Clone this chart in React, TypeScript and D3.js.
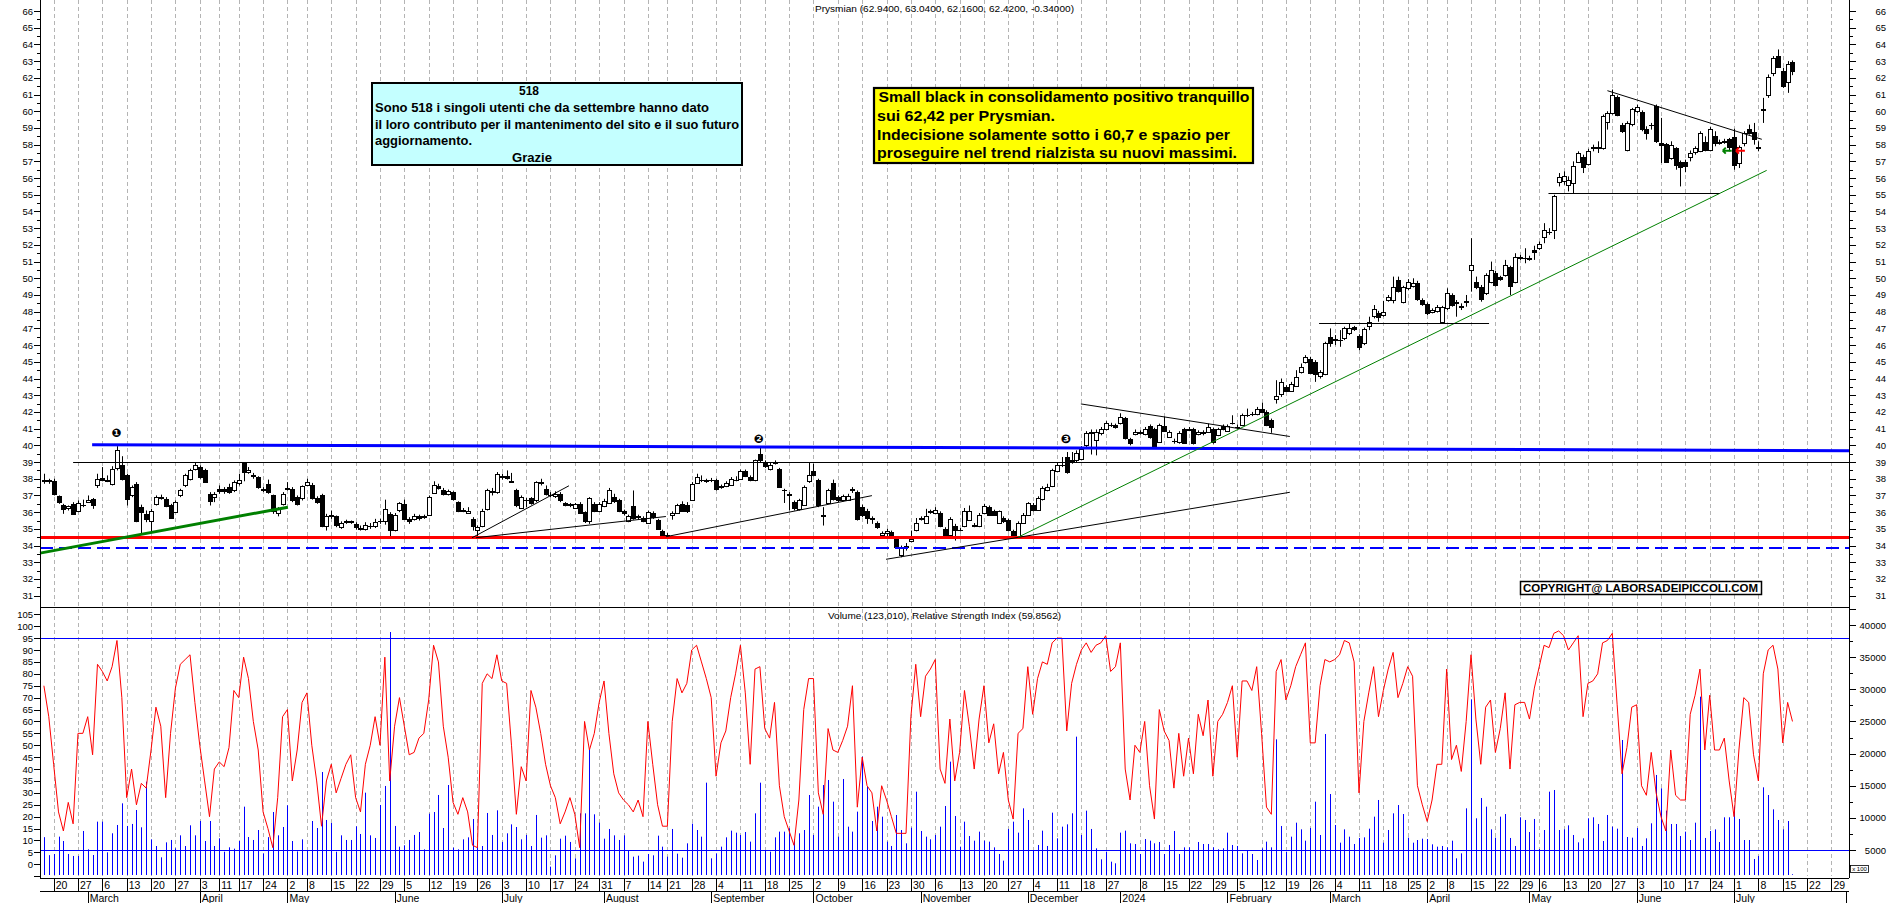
import React from "react";
import * as d3 from "d3";

const W = 1890;
const H = 903;
const AX_L = 40;
const AX_R = 1849;
const FONT = "'Liberation Sans', Arial, Helvetica, sans-serif";

// Calendar (Borsa Italiana trading days)
const FIRST_DAY = "2023-02-16";
const LAST_AXIS_DAY = "2024-08-02";
const HOLIDAYS = ["2023-04-07", "2023-04-10", "2023-05-01", "2023-08-15", "2023-12-25", "2023-12-26", "2024-01-01", "2024-03-29", "2024-04-01", "2024-05-01"];
const WEEK_SKIP = ["2024-01-02"];
const MONTH_NAMES = ["January", "February", "March", "April", "May", "June", "July", "August", "September", "October", "November", "December"];

const OPEN = [
37.85,37.9,37.87,36.95,36.45,36.25,36.5,36.1,36.4,36.6,
36.8,37.6,38.05,37.9,37.7,38.65,38.8,38.2,37.0,37.7,
36.3,35.9,35.5,36.5,36.85,36.8,36.4,36.0,37.0,37.6,
38.0,38.6,38.7,38.55,37.1,36.9,37.4,37.4,37.5,37.3,
37.75,38.95,38.4,38.25,38.1,37.4,37.7,37.0,35.95,36.5,
37.4,37.4,36.9,36.85,37.65,37.6,36.85,37.0,35.2,35.75,
35.75,35.1,35.4,35.45,35.3,35.05,35.0,35.2,35.15,35.5,
35.45,35.9,34.95,36.15,36.5,35.6,35.6,35.8,35.7,35.85,
37.15,37.55,37.35,37.1,37.2,36.6,36.15,35.95,35.6,34.95,
35.2,36.2,37.2,37.2,38.15,38.15,37.85,37.3,36.25,36.75,
36.85,36.7,37.8,37.4,37.05,36.95,37.1,36.55,36.5,36.25,
36.5,36.0,35.45,36.5,36.1,36.35,36.55,36.9,36.7,36.05,
35.5,36.35,35.75,35.65,35.35,35.95,35.55,34.85,34.65,35.85,
35.95,36.5,36.45,36.75,37.75,37.95,37.9,37.9,37.95,37.55,
37.55,37.65,37.95,38.0,38.45,38.1,37.9,39.5,38.95,38.6,
38.95,38.6,37.35,37.1,36.6,36.2,36.45,37.85,38.45,37.9,
35.85,36.55,37.75,36.9,36.75,36.75,37.3,37.2,36.3,36.1,
35.65,35.35,34.65,34.75,34.8,34.4,33.45,33.9,34.25,34.95,
35.6,35.35,36.0,35.95,35.95,35.0,34.65,35.15,34.95,35.15,
35.55,35.25,35.15,35.95,36.3,36.05,35.35,35.65,35.55,34.85,
34.55,35.35,35.85,36.45,36.15,36.8,37.35,37.55,38.45,38.8,
39.3,39.05,39.1,39.2,40.0,40.75,40.3,40.72,40.96,41.2,
41.22,41.32,41.62,40.36,40.68,40.8,40.68,41.18,40.96,40.22,
41.18,40.52,40.28,40.22,40.96,40.94,40.96,40.68,40.8,40.82,
40.96,40.62,41.16,40.88,41.34,41.12,41.22,41.82,41.86,41.88,
42.16,42.02,41.52,42.76,43.08,43.48,43.28,43.55,44.4,45.0,
45.15,45.0,44.15,44.25,46.47,46.36,46.3,46.4,46.7,47.06,
46.55,46.1,47.15,47.75,47.94,47.8,48.7,48.7,49.9,48.6,
49.4,49.54,49.74,48.7,48.46,48.0,48.06,47.4,48.2,49.0,
48.58,48.32,48.6,50.5,49.8,49.5,49.1,49.8,50.34,50.06,
50.2,50.65,49.8,51.3,51.2,51.2,51.7,51.8,52.5,52.75,
52.9,55.77,55.8,55.58,55.68,56.98,57.28,56.84,57.88,57.88,
57.8,59.38,59.88,60.83,59.18,57.68,59.22,60.03,59.97,58.92,
59.2,60.3,58.08,58.04,57.18,57.78,56.98,56.98,57.24,57.58,
57.64,58.18,57.68,58.52,58.18,58.2,58.32,58.44,56.88,58.12,
58.92,58.78,57.88,60.12,60.97,62.27,63.3,62.43,61.77,62.94];

const HIGH = [
38.3,38.0,38.0,37.0,36.5,36.4,36.6,36.7,36.75,37.0,
36.85,38.3,38.7,38.2,38.75,39.95,39.35,38.3,37.6,37.8,
36.45,36.1,36.2,37.0,37.05,36.9,36.5,36.7,37.4,38.3,
38.6,38.95,38.8,38.6,37.2,37.2,37.6,37.5,37.7,37.9,
38.3,39.0,38.7,38.35,38.15,37.5,37.95,37.05,36.3,37.2,
37.8,37.5,37.0,37.6,38.0,37.75,36.95,37.1,35.9,36.1,
35.8,35.45,35.55,35.5,35.4,35.2,35.4,35.35,35.6,35.6,
36.75,36.0,35.95,36.6,36.75,35.7,35.9,35.85,35.85,37.0,
37.85,37.7,37.45,37.35,37.25,36.65,36.25,36.3,35.7,35.2,
36.2,37.4,37.45,38.4,38.3,38.5,38.35,37.4,37.0,36.85,
36.9,37.85,38.0,37.6,37.2,37.25,37.2,36.6,36.55,36.55,
36.6,36.05,36.9,36.6,36.6,36.8,37.45,37.1,36.8,36.15,
35.85,37.3,35.85,35.75,36.1,36.05,35.6,34.95,34.75,36.05,
36.5,36.65,36.6,37.8,38.3,38.2,38.0,38.05,38.0,37.65,
37.85,38.1,38.15,38.55,38.55,38.2,39.15,39.85,39.1,38.95,
39.1,38.65,37.4,37.2,36.7,36.8,37.6,38.95,38.9,38.0,
36.3,37.4,37.95,37.0,37.05,37.1,37.5,37.3,36.45,36.2,
35.75,35.45,34.85,35.0,34.9,34.5,34.0,34.15,34.9,35.65,
35.75,36.2,36.15,36.3,36.05,35.1,35.7,35.3,35.05,36.25,
36.4,35.35,35.95,36.5,36.4,36.15,36.1,35.75,35.6,34.95,
35.45,35.95,36.6,36.55,36.95,37.55,37.7,38.6,39.0,39.3,
39.6,39.6,39.7,39.95,40.85,40.95,40.95,41.1,41.45,41.35,
41.3,41.92,41.7,40.45,40.95,40.9,41.1,41.25,41.05,41.3,
41.72,40.9,40.4,40.85,41.05,41.1,41.05,40.9,40.9,41.3,
41.05,41.05,41.25,41.25,41.8,41.25,41.9,42.2,42.0,42.3,
42.55,42.1,41.6,43.9,44.0,43.6,43.8,44.5,44.9,45.4,
45.3,45.1,44.5,46.2,47.0,46.6,46.9,47.1,47.3,47.15,
46.65,47.05,47.7,48.4,48.05,48.65,49.0,50.1,50.1,49.55,
49.95,50.0,49.85,48.8,48.55,48.2,48.4,48.35,49.4,49.1,
48.7,48.5,49.0,52.4,50.1,49.6,50.3,51.0,50.45,50.15,
51.1,50.75,51.5,51.4,51.8,51.35,51.95,52.2,53.3,53.0,
55.0,56.3,56.4,56.1,57.0,57.6,57.4,57.75,58.0,58.2,
59.8,60.0,61.3,60.95,59.3,59.4,60.2,60.4,60.05,59.1,
59.3,60.4,59.6,58.1,58.2,57.85,57.05,57.1,57.65,57.9,
58.8,58.5,59.05,58.8,58.3,58.35,58.4,58.95,57.95,58.8,
59.2,59.3,58.2,60.8,62.2,63.3,63.7,62.6,63.0,63.04];

const LOW = [
37.7,37.7,37.0,36.5,35.9,36.1,35.85,36.0,36.3,36.55,
36.2,37.45,37.85,37.8,37.6,38.5,37.9,36.4,36.9,35.4,
34.75,35.4,34.85,36.4,36.75,36.3,35.6,35.95,36.9,37.5,
37.9,38.5,38.0,37.75,36.4,36.6,37.1,37.1,37.1,37.2,
37.6,37.85,38.3,38.0,37.4,37.2,37.1,35.9,35.75,36.4,
37.3,36.6,36.4,36.7,37.6,36.75,36.5,35.1,34.9,35.6,
35.1,35.0,35.3,35.3,34.95,34.9,34.9,35.0,35.05,35.3,
35.25,34.55,34.85,36.0,35.55,35.3,35.5,35.5,35.6,35.8,
37.1,37.35,37.0,37.0,36.7,36.0,36.0,35.9,34.9,34.45,
35.1,36.1,37.0,37.1,37.95,37.95,37.75,36.3,36.2,36.3,
36.45,36.6,37.6,37.0,36.9,36.85,36.6,36.35,36.3,36.2,
35.9,35.35,35.3,36.0,36.0,36.3,36.5,36.55,36.0,35.8,
35.4,35.55,35.55,35.4,35.3,35.6,34.95,34.45,34.5,35.55,
35.9,36.05,35.95,36.7,37.7,37.8,37.75,37.8,37.3,37.4,
37.5,37.6,37.85,37.95,38.1,37.85,37.85,39.0,38.65,38.5,
38.85,37.45,36.55,36.1,36.1,36.1,36.4,37.75,38.15,36.3,
35.2,36.5,36.7,36.6,36.65,36.7,37.15,35.5,35.7,35.3,
35.3,35.0,34.45,34.55,34.45,33.8,33.3,33.7,34.2,34.85,
35.5,35.3,35.9,35.9,35.1,34.55,34.55,34.3,34.85,35.1,
35.5,35.1,35.1,35.9,35.8,35.8,35.3,35.35,34.85,34.45,
34.5,35.3,35.8,36.05,36.1,36.7,37.25,37.5,38.4,38.7,
38.3,38.9,39.0,39.1,39.9,39.45,39.4,40.6,40.9,41.1,
41.0,41.25,40.35,40.0,40.6,40.65,40.6,40.4,39.85,40.15,
40.8,40.45,40.1,40.1,40.1,40.85,40.05,40.6,40.6,40.75,
40.1,40.55,40.9,40.8,41.25,41.0,41.15,41.7,41.75,41.8,
41.95,41.15,40.75,42.5,42.9,43.2,43.2,43.5,44.3,44.9,
44.3,43.8,44.0,44.2,45.9,46.0,45.9,46.3,46.6,46.85,
45.7,46.0,46.9,47.6,47.4,47.7,48.6,48.5,49.15,48.5,
49.3,49.45,48.65,48.35,47.8,47.9,47.95,47.3,48.1,48.3,
47.7,48.1,48.3,49.2,49.35,48.6,49.0,49.7,49.5,49.85,
50.1,49.0,49.7,51.1,50.9,51.05,51.1,51.7,52.1,52.6,
52.35,55.5,55.6,55.2,55.1,56.9,56.3,56.75,57.6,57.5,
57.7,58.9,59.8,59.7,58.7,57.6,59.1,59.9,58.8,58.3,
58.9,58.1,56.9,56.9,57.1,56.5,55.5,56.35,57.0,57.4,
57.55,57.6,57.6,57.9,58.0,58.05,57.6,56.5,56.6,57.9,
58.6,58.0,57.6,59.3,60.8,62.1,62.6,61.4,61.1,62.16];

const CLOSE = [
37.95,37.85,37.1,36.6,36.2,36.35,35.9,36.55,36.45,36.75,
36.45,38.0,37.95,37.85,38.6,39.75,38.0,36.8,37.5,35.5,
36.0,35.6,36.1,36.9,36.9,36.35,35.65,36.6,37.3,38.2,
38.5,38.8,38.1,37.8,36.65,37.1,37.25,37.25,37.2,37.8,
37.95,38.4,38.55,38.15,37.5,37.3,37.2,36.1,36.2,37.1,
37.45,36.75,36.5,37.55,37.8,36.85,36.6,35.2,35.75,35.85,
35.25,35.35,35.45,35.4,35.1,35.0,35.25,35.15,35.4,35.45,
36.2,34.95,35.85,36.55,35.6,35.5,35.8,35.65,35.75,36.9,
37.6,37.45,37.1,37.25,36.8,36.1,36.1,36.1,35.2,35.1,
36.1,37.3,37.25,38.3,38.1,38.05,37.8,36.4,36.9,36.7,
36.55,37.8,37.75,37.1,37.0,37.1,36.7,36.4,36.4,36.5,
35.95,35.5,36.85,36.1,36.5,36.65,37.3,36.65,36.05,35.95,
35.75,35.65,35.7,35.5,36.0,35.7,35.0,34.65,34.65,35.95,
36.4,36.1,36.05,37.7,38.1,37.9,37.85,37.95,37.4,37.5,
37.75,38.0,37.95,38.45,38.15,37.9,39.1,39.15,38.75,38.8,
39.0,37.5,37.3,37.05,36.25,36.7,37.5,38.25,38.25,36.4,
35.8,37.3,36.8,36.75,36.95,36.95,37.4,35.6,35.85,35.65,
35.6,35.1,34.75,34.85,34.65,33.9,33.85,33.95,34.4,35.35,
35.65,35.75,36.05,36.15,35.15,34.65,35.6,34.95,34.95,36.05,
36.05,35.2,35.85,36.35,35.85,35.85,36.05,35.45,34.95,34.55,
35.35,35.85,36.55,36.15,36.85,37.45,37.5,38.5,38.8,38.85,
38.4,39.1,39.55,39.8,40.75,40.8,40.8,40.96,41.32,41.22,
41.08,41.68,40.42,40.16,40.82,40.76,40.98,40.48,39.92,41.22,
40.88,40.82,40.26,40.76,40.16,40.98,40.12,40.82,40.74,41.12,
40.22,40.96,40.96,41.16,41.36,41.1,41.82,41.8,41.88,42.16,
42.02,41.22,41.08,42.96,43.82,43.28,43.68,44.1,44.7,45.27,
44.35,44.3,44.4,46.1,46.1,46.3,46.28,47.0,47.0,46.94,
45.87,46.94,47.4,48.15,47.66,48.0,48.86,49.46,49.26,49.46,
49.8,49.74,48.74,48.46,47.94,48.1,48.3,48.3,49.14,48.4,
48.54,48.3,48.62,50.8,49.5,48.74,50.2,50.5,49.6,49.94,
50.8,49.54,51.3,51.2,51.22,51.18,51.6,52.05,52.9,52.8,
54.9,56.05,56.1,55.88,56.72,57.52,56.68,57.64,57.78,57.78,
59.7,59.88,60.97,59.77,58.84,59.32,60.12,60.23,58.92,58.68,
59.18,58.24,57.98,56.98,57.98,56.78,56.68,56.72,57.52,57.78,
58.68,57.68,58.92,58.08,58.08,58.18,57.84,56.78,57.88,58.72,
58.72,58.32,57.78,60.1,62.07,63.17,62.67,61.51,62.83,62.42];

const VOLUME = [
7000,4200,4380,7080,6400,4380,4070,4070,7960,5100,
4220,9410,9410,4640,7600,8890,12260,8740,9050,11220,
8530,15630,6660,5620,3860,6190,6560,5260,7280,5620,
8840,7280,9510,6400,9510,5620,6820,4740,5420,5210,
6400,11740,7020,6560,8110,4480,7000,10910,7280,8580,
11950,6400,4790,6660,5000,9510,8420,17130,9670,9200,
4740,7280,6560,6560,8680,7490,13920,7280,6870,12000,
14960,38910,8740,5520,5730,6560,7340,7800,5100,10650,
10910,13560,8420,15110,5360,5100,6660,6970,9820,5880,
5620,10760,7340,11170,6250,7600,8990,8580,6660,7340,
5620,10450,6920,7280,2410,4170,6760,7230,6250,3700,
10700,10700,20560,10550,9250,6760,8270,7280,6560,7280,
5000,3960,4120,3190,4380,4170,7230,5520,3960,8270,
4430,3810,6040,9100,8110,7075,15475,3705,4480,5520,
6970,8010,7700,7335,7800,6300,10705,15475,5000,4740,
6970,7855,7855,8370,6660,7595,8110,13555,7335,11740,
15110,15890,12520,7075,16045,8630,7855,10965,19520,14850,
9510,11740,10185,6300,5625,10445,8110,6040,8475,14075,
7960,7075,6660,7335,8630,11845,18740,10290,5520,9410,
7180,6450,7855,6450,6300,5415,4380,3340,8270,9410,
7700,11480,9670,4900,5780,8010,5625,10810,6815,8630,
8995,10705,22630,7335,11120,8270,5260,3550,4740,3185,
2930,7700,8010,6040,5935,4380,6710,6450,6040,6245,
4380,5780,7960,4380,5415,5415,4900,6245,5935,5935,
5415,5105,5260,7700,5780,5625,4480,4900,4380,3445,
5260,6300,5415,22215,8735,4740,7075,9250,8216,6450,
8420,12520,7335,23045,13710,8890,6140,8215,7075,5935,
6870,6970,8320,10185,12780,6140,8110,10705,11995,10600,
6920,6140,6555,6760,6710,5880,5520,5625,5415,6450,
3705,4480,11480,28440,9930,13090,11740,8215,6920,10185,
10600,6870,5625,10085,9670,7800,9825,5155,8110,14075,
14335,8110,8215,8840,7335,6190,6815,9930,10085,9045,
6400,10445,8630,8320,22110,7020,6920,8420,5625,6815,
9150,16670,14595,11120,9045,9045,7180,7855,6555,9250,
28850,6870,7960,8215,6245,10085,10085,11740,9825,6555,
6555,3600,4070,14750,13555,11325,9670,8215,9510,1230];

const RSI = [
75,62,42,22,14,26,17,55,55,62,
46,84,81,77,83,94,70,28,40,25,
34,32,48,66,58,28,55,74,84,86,
88,68,50,35,20,40,43,41,49,73,
70,87,78,60,48,22,15,7,28,62,
65,35,48,68,72,50,35,16,35,42,
30,36,42,46,28,22,42,50,62,50,
87,35,58,70,58,46,47,53,55,69,
92,85,58,45,26,21,28,22,8,7,
76,80,78,88,77,76,50,21,41,35,
73,66,55,42,33,28,17,22,28,21,
7,60,48,55,68,77,55,38,30,27,
25,22,27,20,60,42,25,16,16,60,
78,72,76,90,92,85,78,70,37,51,
56,70,80,92,72,42,82,83,57,53,
68,33,20,14,8,27,65,78,78,30,
21,57,48,47,52,58,75,24,45,33,
30,14,33,27,20,13,13,13,62,84,
62,79,82,86,40,34,61,35,47,73,
58,40,61,75,51,59,38,47,27,19,
55,57,83,63,78,85,84,93,95,95,
56,76,84,90,93,89,92,93,96,81,
83,93,40,27,50,47,60,33,19,65,
56,52,32,55,37,53,38,63,54,69,
37,60,63,68,75,45,77,77,73,83,
55,24,21,81,86,69,75,83,88,93,
51,51,75,86,85,86,88,94,93,85,
30,60,72,83,62,73,82,89,70,76,
83,79,33,25,18,27,42,42,82,44,
50,39,60,88,61,42,66,69,47,57,
72,40,67,68,68,61,74,83,92,91,
97,98,96,90,93,96,62,76,77,80,
93,94,97,67,38,49,66,67,33,29,
47,30,20,14,48,29,27,27,63,71,
82,48,71,48,48,53,35,20,48,70,
68,46,35,80,90,92,82,51,68,60];

const PRICE_TICKS = [31,32,33,34,35,36,37,38,39,40,41,42,43,44,45,46,47,48,49,50,51,52,53,54,55,56,57,58,59,60,61,62,63,64,65,66];
const RSI_TICKS = [0,5,10,15,20,25,30,35,40,45,50,55,60,65,70,75,80,85,90,95,100,105];
const VOL_TICKS = [5000,10000,15000,20000,25000,30000,35000,40000];

// Annotations drawn on the chart (trading-day index, price)
const TRENDLINES = [
  { i1: 9.9, p1: 40.04, i2: 370.6, p2: 39.68, color: "#0000FF", w: 3, dash: "" },
  { i1: 6.0, p1: 39.0, i2: 370.6, p2: 39.0, color: "#000000", w: 1, dash: "" },
  { i1: -0.8, p1: 34.5, i2: 370.6, p2: 34.5, color: "#FF0000", w: 3, dash: "" },
  { i1: -0.8, p1: 33.85, i2: 370.6, p2: 33.85, color: "#0000FF", w: 2, dash: "13,6" },
  { i1: -0.8, p1: 33.55, i2: 50.1, p2: 36.3, color: "#008000", w: 3, dash: "" },
  { i1: 87.9, p1: 34.47, i2: 107.8, p2: 37.58, color: "#000000", w: 1, dash: "" },
  { i1: 88.7, p1: 34.47, i2: 127.7, p2: 35.74, color: "#000000", w: 1, dash: "" },
  { i1: 127.7, p1: 34.53, i2: 170.0, p2: 36.99, color: "#000000", w: 1, dash: "" },
  { i1: 172.9, p1: 33.18, i2: 255.8, p2: 37.19, color: "#000000", w: 1, dash: "" },
  { i1: 200.0, p1: 34.5, i2: 353.7, p2: 56.46, color: "#008000", w: 1, dash: "" },
  { i1: 212.9, p1: 42.48, i2: 255.8, p2: 40.53, color: "#000000", w: 1, dash: "" },
  { i1: 261.8, p1: 47.31, i2: 296.7, p2: 47.31, color: "#000000", w: 1, dash: "" },
  { i1: 321.0, p1: 61.23, i2: 352.7, p2: 58.32, color: "#000000", w: 1, dash: "" },
  { i1: 308.9, p1: 55.09, i2: 344.0, p2: 55.09, color: "#000000", w: 1, dash: "" },
];
const MARKERS = [
  { i: 14.9, p: 40.8, label: "\u2776" },
  { i: 146.8, p: 40.42, label: "\u2777" },
  { i: 209.8, p: 40.42, label: "\u2778" },
];
const ARROWS = [
  { i: 345.5, p: 57.64, color: "#008000" },
  { i: 348.2, p: 57.64, color: "#FF0000" },
];

const INFO_LINES = ["Sono 518 i singoli utenti che da settembre hanno dato", "il loro contributo per il mantenimento del sito e il suo futuro", "aggiornamento."];
const NOTE_LINES = ["Small black in consolidamento positivo tranquillo", "sui 62,42 per Prysmian.", "Indecisione solamente sotto i 60,7 e spazio per", "proseguire nel trend rialzista su nuovi massimi."];

function buildDays(): Date[] {
  const hol = new Set(HOLIDAYS);
  const out: Date[] = [];
  const d = new Date(FIRST_DAY + "T00:00:00Z");
  const end = new Date(LAST_AXIS_DAY + "T00:00:00Z");
  while (d.getTime() <= end.getTime()) {
    const dow = d.getUTCDay();
    const iso = d.toISOString().slice(0, 10);
    if (dow !== 0 && dow !== 6 && !hol.has(iso)) out.push(new Date(d.getTime()));
    d.setUTCDate(d.getUTCDate() + 1);
  }
  return out;
}

const cx = (v: number) => Math.round(v) + 0.5;
const snap = (v: number, w: number) => (Math.round(w) % 2 === 1 ? Math.round(v) + 0.5 : Math.round(v));

export default function App() {
  const days = buildDays();
  const x = d3.scaleLinear().domain([-0.8, 370.6]).range([AX_L, AX_R]);
  const yP = d3.scaleLinear().domain([31, 66]).range([595.7, 11]);
  const yR = d3.scaleLinear().domain([0, 105]).range([864.3, 614.3]);
  const yV = d3.scaleLinear().domain([5000, 40000]).range([850, 625]);

  const weekIdx: number[] = [];
  const monthIdx: number[] = [];
  for (let k = 1; k < days.length; k++) {
    const iso = days[k].toISOString().slice(0, 10);
    if (days[k].getUTCDay() <= days[k - 1].getUTCDay() && !WEEK_SKIP.includes(iso)) weekIdx.push(k);
    if (days[k].getUTCMonth() !== days[k - 1].getUTCMonth()) monthIdx.push(k);
  }

  const rsiLine = d3.line<number>().x((_, i) => x(i)).y((v) => yR(v))(RSI) || "";
  const minorPrice: number[] = PRICE_TICKS.slice(0, -1).map((p) => p + 0.5);

  return (
    <svg width={W} height={H} viewBox={`0 0 ${W} ${H}`} style={{ position: "absolute", left: 0, top: 0, display: "block", background: "#fff" }} fontFamily={FONT}>
      <rect x={0} y={0} width={W} height={H} fill="#fff" />
      {/* vertical dashed gridlines */}
      {weekIdx.map((k) => (
        <line key={"g" + k} x1={cx(x(k))} x2={cx(x(k))} y1={0} y2={876} stroke="#b4b4b4" strokeWidth={1} strokeDasharray="4,3" />
      ))}

      {/* candles */}
      {CLOSE.map((c, i) => {
        const o = OPEN[i];
        const xc = Math.round(x(i));
        const top = Math.round(yP(Math.max(o, c)));
        const bot = Math.round(yP(Math.min(o, c)));
        const up = c >= o;
        return (
          <g key={"c" + i}>
            <line x1={xc + 0.5} x2={xc + 0.5} y1={yP(HIGH[i])} y2={yP(LOW[i])} stroke="#000" strokeWidth={1} />
            {bot - top < 1 ? (
              <line x1={xc - 2} x2={xc + 3} y1={top + 0.5} y2={top + 0.5} stroke="#000" strokeWidth={1} />
            ) : (
              <rect x={xc - 1.5} y={top + 0.5} width={4} height={bot - top} fill={up ? "#fff" : "#000"} stroke="#000" strokeWidth={1} />
            )}
          </g>
        );
      })}

      {/* trendlines and levels */}
      {TRENDLINES.map((t, k) => {
        const flat = t.p1 === t.p2;
        const y1 = flat ? snap(yP(t.p1), t.w) : yP(t.p1);
        const y2 = flat ? snap(yP(t.p2), t.w) : yP(t.p2);
        return (
          <line key={"t" + k} x1={x(t.i1)} y1={y1} x2={x(t.i2)} y2={y2} stroke={t.color} strokeWidth={t.w} strokeDasharray={t.dash || undefined} />
        );
      })}

      {MARKERS.map((m, k) => (
        <text key={"m" + k} x={x(m.i)} y={yP(m.p) + 5} fontSize={12} fontWeight="bold" textAnchor="middle" fontFamily="'DejaVu Sans', sans-serif" fill="#000">{m.label}</text>
      ))}

      {ARROWS.map((a, k) => {
        const ax = x(a.i);
        const ay = yP(a.p);
        return (
          <path key={"a" + k} d={`M${ax + 5},${ay} L${ax - 4},${ay} M${ax - 4},${ay} L${ax - 1},${ay - 3} M${ax - 4},${ay} L${ax - 1},${ay + 3}`} stroke={a.color} strokeWidth={2} fill="none" />
        );
      })}

      {/* title */}
      <text x={815} y={11.5} fontSize={9} fill="#000" textLength={259} lengthAdjust="spacingAndGlyphs">Prysmian (62.9400, 63.0400, 62.1600, 62.4200, -0.34000)</text>

      {/* cyan box */}
      <rect x={372} y={83} width={370} height={82} fill="#C4FFFF" stroke="#000" strokeWidth={2} />
      <text x={529} y={95} fontSize={13} fontWeight="bold" textAnchor="middle" textLength={20} lengthAdjust="spacingAndGlyphs">518</text>
      <text x={375} y={112} fontSize={13} fontWeight="bold" textLength={334} lengthAdjust="spacingAndGlyphs">{INFO_LINES[0]}</text>
      <text x={375} y={129} fontSize={13} fontWeight="bold" textLength={364} lengthAdjust="spacingAndGlyphs">{INFO_LINES[1]}</text>
      <text x={375} y={144.5} fontSize={13} fontWeight="bold" textLength={97} lengthAdjust="spacingAndGlyphs">{INFO_LINES[2]}</text>
      <text x={532} y={162} fontSize={13} fontWeight="bold" textAnchor="middle" textLength={40} lengthAdjust="spacingAndGlyphs">Grazie</text>

      {/* yellow box */}
      <rect x={874} y={88} width={379} height={75} fill="#FFFF00" stroke="#000" strokeWidth={2.2} />
      <text x={878.5} y={102} fontSize={15.5} fontWeight="bold" textLength={371} lengthAdjust="spacingAndGlyphs">{NOTE_LINES[0]}</text>
      <text x={877} y={120.5} fontSize={15.5} fontWeight="bold" textLength={178} lengthAdjust="spacingAndGlyphs">{NOTE_LINES[1]}</text>
      <text x={877} y={139.5} fontSize={15.5} fontWeight="bold" textLength={353} lengthAdjust="spacingAndGlyphs">{NOTE_LINES[2]}</text>
      <text x={877} y={158} fontSize={15.5} fontWeight="bold" textLength={360} lengthAdjust="spacingAndGlyphs">{NOTE_LINES[3]}</text>

      {/* copyright */}
      <rect x={1520.5} y={581.5} width={241} height={13} fill="#fff" stroke="#000" strokeWidth={1.5} />
      <text x={1523} y={592} fontSize={11.5} fontWeight="bold" textLength={235} lengthAdjust="spacingAndGlyphs">COPYRIGHT@ LABORSADEIPICCOLI.COM</text>

      {/* lower panel */}
      <line x1={AX_L} x2={AX_R} y1={607.5} y2={607.5} stroke="#000" strokeWidth={1} />
      {VOLUME.map((v, i) => (
        <line key={"v" + i} x1={cx(x(i))} x2={cx(x(i))} y1={875} y2={Math.min(875, yV(v))} stroke="#0000FF" strokeWidth={1} />
      ))}
      <path d={rsiLine} fill="none" stroke="#FF0000" strokeWidth={1} />
      <line x1={AX_L} x2={AX_R} y1={snap(yR(95), 1)} y2={snap(yR(95), 1)} stroke="#0000FF" strokeWidth={1} />
      <line x1={AX_L} x2={AX_R} y1={snap(yR(6), 1)} y2={snap(yR(6), 1)} stroke="#0000FF" strokeWidth={1} />
      <text x={828} y={619} fontSize={9} fill="#000" textLength={233} lengthAdjust="spacingAndGlyphs">Volume (123,010), Relative Strength Index (59.8562)</text>

      {/* axes */}
      <line x1={AX_L + 0.5} x2={AX_L + 0.5} y1={0} y2={878} stroke="#000" strokeWidth={1} />
      <line x1={AX_R + 0.5} x2={AX_R + 0.5} y1={0} y2={878} stroke="#000" strokeWidth={1} />
      {PRICE_TICKS.map((p) => (
        <g key={"pt" + p}>
          <line x1={AX_L - 6} x2={AX_L} y1={cx(yP(p))} y2={cx(yP(p))} stroke="#000" />
          <line x1={AX_R} x2={AX_R + 7} y1={cx(yP(p))} y2={cx(yP(p))} stroke="#000" />
          <text x={33} y={yP(p) + 3.5} fontSize={9.5} textAnchor="end" fill="#000">{p}</text>
          <text x={1886} y={yP(p) + 3.5} fontSize={9.5} textAnchor="end" fill="#000">{p}</text>
        </g>
      ))}
      {minorPrice.map((p) => (
        <g key={"mp" + p}>
          <line x1={AX_L - 3} x2={AX_L} y1={cx(yP(p))} y2={cx(yP(p))} stroke="#000" />
          <line x1={AX_R} x2={AX_R + 4} y1={cx(yP(p))} y2={cx(yP(p))} stroke="#000" />
        </g>
      ))}
      {RSI_TICKS.map((r) => (
        <g key={"rt" + r}>
          <line x1={AX_L - 6} x2={AX_L} y1={cx(yR(r))} y2={cx(yR(r))} stroke="#000" />
          <text x={33} y={yR(r) + 3.5} fontSize={9.5} textAnchor="end" fill="#000">{r}</text>
        </g>
      ))}
      <line x1={AX_L - 6} x2={AX_L} y1={cx(yR(-5))} y2={cx(yR(-5))} stroke="#000" />
      {VOL_TICKS.map((v) => (
        <g key={"vt" + v}>
          <line x1={AX_R} x2={AX_R + 7} y1={cx(yV(v))} y2={cx(yV(v))} stroke="#000" />
          <line x1={AX_R} x2={AX_R + 4} y1={cx(yV(v - 2500))} y2={cx(yV(v - 2500))} stroke="#000" />
          <text x={1886} y={yV(v) + 3.5} fontSize={9.5} textAnchor="end" fill="#000">{v}</text>
        </g>
      ))}
      <line x1={AX_R} x2={AX_R + 7} y1={cx(yV(42500))} y2={cx(yV(42500))} stroke="#000" />
      <rect x={1850.5} y={865.5} width={18} height={7} fill="#fff" stroke="#000" strokeWidth={0.8} />
      <text x={1859.5} y={871} fontSize={6} textAnchor="middle" fill="#000">x 100</text>

      {/* time axis */}
      <line x1={AX_L} x2={AX_R} y1={878.5} y2={878.5} stroke="#000" strokeWidth={1} />
      <line x1={AX_L} x2={AX_R} y1={891.5} y2={891.5} stroke="#000" strokeWidth={1} />
      {weekIdx.map((k) => (
        <g key={"w" + k}>
          <line x1={cx(x(k))} x2={cx(x(k))} y1={878} y2={891} stroke="#000" strokeWidth={1} />
          <text x={x(k) + 2} y={888.5} fontSize={10.5} fill="#000">{days[k].getUTCDate()}</text>
        </g>
      ))}
      {monthIdx.map((k) => {
        const dt = days[k];
        const label = dt.getUTCMonth() === 0 ? String(dt.getUTCFullYear()) : MONTH_NAMES[dt.getUTCMonth()];
        return (
          <g key={"mo" + k}>
            <line x1={cx(x(k))} x2={cx(x(k))} y1={891} y2={903} stroke="#000" strokeWidth={1} />
            {x(k) < 1820 ? <text x={x(k) + 2} y={902} fontSize={10.5} fill="#000">{label}</text> : null}
          </g>
        );
      })}
    </svg>
  );
}
